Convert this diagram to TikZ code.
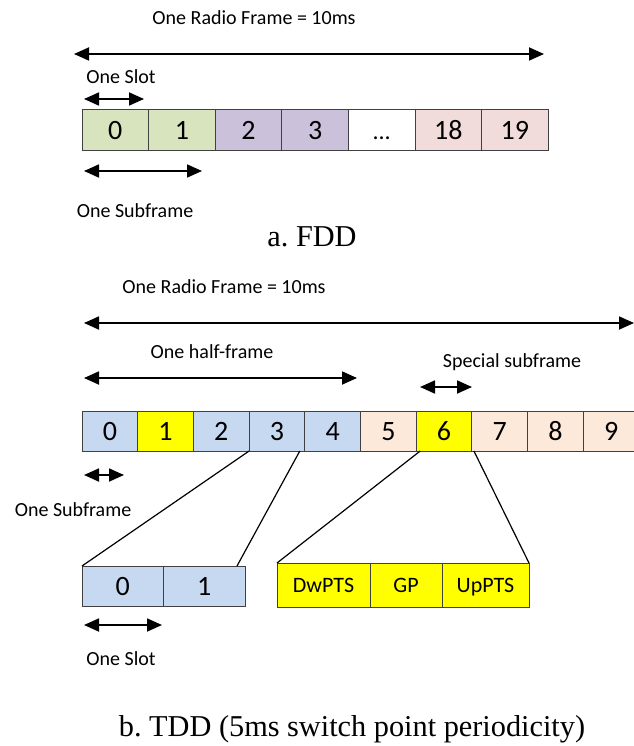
\documentclass[tikz,border=0pt]{standalone}
\usepackage{fontspec}
\setmainfont{Carlito}
\newfontfamily\captionfont{Liberation Serif}
\usetikzlibrary{arrows.meta}
\frenchspacing

\definecolor{cellline}{HTML}{404040}
\definecolor{fddgreen}{HTML}{D7E4BD}
\definecolor{fddpurple}{HTML}{CCC1DA}
\definecolor{fddpink}{HTML}{F2DCDB}
\definecolor{tddblue}{HTML}{C6D9F1}
\definecolor{tddpeach}{HTML}{FDE9D9}
\definecolor{tddyellow}{HTML}{FFFF00}

\begin{document}
\begin{tikzpicture}[x=1pt,y=-1pt,
  cellbox/.style={draw=cellline, line width=1pt, inner sep=0pt, outer sep=0pt,
    font=\fontsize{28}{32}\selectfont, text=black,
    text height=18pt, text depth=0pt},
  fddcell/.style={cellbox, minimum width=66.6pt, minimum height=41pt},
  tddcell/.style={cellbox, minimum width=55.7pt, minimum height=40pt},
  slotcell/.style={cellbox, minimum width=81.5pt, minimum height=40pt, fill=tddblue},
  specialcell/.style={cellbox, minimum height=44pt, fill=tddyellow,
    font=\fontsize{22}{26}\selectfont, text height=14pt},
  lbl/.style={anchor=base, inner sep=0pt, font=\fontsize{20}{24}\selectfont, text=black},
  caption/.style={anchor=base, inner sep=0pt, font=\captionfont\fontsize{30.3}{36}\selectfont},
  dimarrow/.style={line width=1.8pt,
    {Triangle[length=15pt,width=13pt]}-{Triangle[length=15pt,width=13pt]}},
  zoomline/.style={line width=1.2pt, black}]

\useasboundingbox (0,0) rectangle (633,746);

% ---------- a. FDD ----------
\node[lbl] (fddtitle) at (254,25) {One Radio Frame = 10ms};
\coordinate (fframeL) at (74,54);
\coordinate (fframeR) at (544,54);
\draw[dimarrow] (fframeL) -- (fframeR);

\node[lbl] (fslotlbl) at (121,84) {One Slot};
\coordinate (fslotL) at (84,99);
\coordinate (fslotR) at (144,99);
\draw[dimarrow] (fslotL) -- (fslotR);

\node[fddcell, fill=fddgreen]  (f0) at (115.3,130.5) {0};
\node[fddcell, fill=fddgreen]  (f1) at (181.9,130.5) {1};
\node[fddcell, fill=fddpurple] (f2) at (248.5,130.5) {2};
\node[fddcell, fill=fddpurple] (f3) at (315.1,130.5) {3};
\node[fddcell, fill=white, font=\fontsize{24}{28}\selectfont] (f4) at (381.7,130.5) {...};
\node[fddcell, fill=fddpink]   (f5) at (448.3,130.5) {18};
\node[fddcell, fill=fddpink]   (f6) at (514.9,130.5) {19};

\coordinate (fsubL) at (84,171);
\coordinate (fsubR) at (202,171);
\draw[dimarrow] (fsubL) -- (fsubR);
\node[lbl] (fsublbl) at (135,217) {One Subframe};

\node[caption] (fddcap) at (312,246) {a. FDD};

% ---------- b. TDD ----------
\node[lbl] (tddtitle) at (224,293) {One Radio Frame = 10ms};
\coordinate (tframeL) at (84,323);
\coordinate (tframeR) at (634,323);
\draw[dimarrow] (tframeL) -- (tframeR);

\node[lbl] (halflbl) at (212,358) {One half-frame};
\coordinate (halfL) at (84,378);
\coordinate (halfR) at (357,378);
\draw[dimarrow] (halfL) -- (halfR);

\node[lbl] (speclbl) at (512,367) {Special subframe};
\coordinate (specL) at (420,387);
\coordinate (specR) at (472,387);
\draw[dimarrow] (specL) -- (specR);

\foreach \i/\c in {0/tddblue,1/tddyellow,2/tddblue,3/tddblue,4/tddblue,
                   5/tddpeach,6/tddyellow,7/tddpeach,8/tddpeach,9/tddpeach}
  \node[tddcell, fill=\c] (t\i) at ({82+55.7*\i+27.85},431) {\i};

\coordinate (tsubL) at (84,475);
\coordinate (tsubR) at (124,475);
\draw[dimarrow] (tsubL) -- (tsubR);
\node[lbl] (tsublbl) at (73,516) {One Subframe};

% slots of one subframe
\node[slotcell] (s0) at (122.75,586) {0};
\node[slotcell] (s1) at (204.25,586) {1};
\draw[zoomline] (t3.south west) -- (s0.north west);
\draw[zoomline] ([xshift=-5pt]t4.south west) -- ([xshift=-8pt]s1.north east);

% fields of the special subframe
\node[specialcell, minimum width=93pt] (dw) at (323.5,585) {DwPTS};
\node[specialcell, minimum width=72pt] (gp) at (406,585) {GP};
\node[specialcell, minimum width=87pt] (up) at (485.5,585) {UpPTS};
\draw[zoomline] ([xshift=4pt]t6.south west) -- (dw.north west);
\draw[zoomline] ([xshift=2pt]t6.south east) -- (up.north east);

\coordinate (tslotL) at (84,625);
\coordinate (tslotR) at (162,625);
\draw[dimarrow] (tslotL) -- (tslotR);
\node[lbl] (tslotlbl) at (121,665) {One Slot};

\node[caption] (tddcap) at (352,736) {b. TDD (5ms switch point periodicity)};
\end{tikzpicture}
\end{document}
